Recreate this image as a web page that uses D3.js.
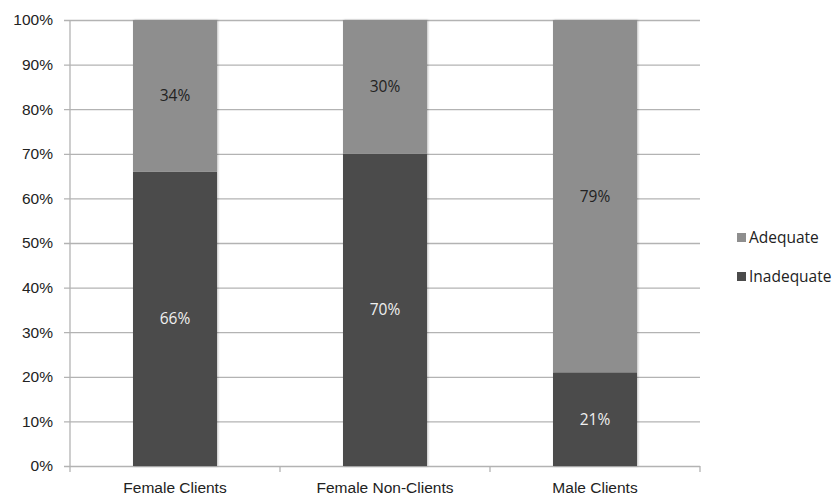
<!DOCTYPE html>
<html>
<head>
<meta charset="utf-8">
<script src="https://cdn.jsdelivr.net/npm/d3@7"></script>
<style>
  body { margin: 0; background: #fff; }
  svg { display: block; font-family: "Open Sans", Lato, sans-serif; }
</style>
</head>
<body>
<svg id="chart" width="839" height="501"></svg>
<script>
// Share of respondents by group (percent)
const categories = ["Female Clients", "Female Non-Clients", "Male Clients"];
const inadequate = [66, 70, 21];
const adequate = [34, 30, 79];
const seriesNames = ["Adequate", "Inadequate"];
const yTicks = [0, 10, 20, 30, 40, 50, 60, 70, 80, 90, 100];

const colors = { Inadequate: "#4b4b4b", Adequate: "#8e8e8e" };

const svg = d3.select("#chart");
const margin = { left: 70, right: 139, top: 20, bottom: 35 };
const width = 839, height = 501;
const fontSize = "15.5px";

const x = d3.scaleBand()
  .domain(categories)
  .range([margin.left, width - margin.right])
  .paddingInner(0.6)
  .paddingOuter(0.3);

const y = d3.scaleLinear()
  .domain([0, 100])
  .range([height - margin.bottom, margin.top]);

// Gridlines with left tick marks
const yAxis = d3.axisLeft(y)
  .tickValues(yTicks)
  .tickFormat(d => d + "%")
  .tickSize(-(width - margin.right - margin.left))
  .tickPadding(17);

const gy = svg.append("g")
  .attr("transform", `translate(${margin.left},0)`)
  .call(yAxis);
gy.select(".domain").remove();
gy.selectAll(".tick line")
  .attr("x1", -6)
  .attr("stroke", "#b3b3b3")
  .attr("stroke-width", 1.3);
gy.selectAll(".tick text")
  .attr("fill", "#222")
  .style("font-size", fontSize);

// Vertical axis line
svg.append("line")
  .attr("x1", margin.left).attr("x2", margin.left)
  .attr("y1", y(100)).attr("y2", y(0))
  .attr("stroke", "#b3b3b3").attr("stroke-width", 1.3);

// Category axis
const xAxis = d3.axisBottom(x).tickSize(0).tickPadding(16);
const gx = svg.append("g")
  .attr("transform", `translate(0,${y(0)})`)
  .call(xAxis);
gx.select(".domain").remove();
gx.selectAll(".tick text")
  .attr("fill", "#222")
  .style("font-size", fontSize);

// Boundary ticks between categories
const step = x.step();
const bounds = d3.range(categories.length + 1).map(i => margin.left + i * step);
svg.append("g").selectAll("line")
  .data(bounds)
  .join("line")
  .attr("x1", d => d).attr("x2", d => d)
  .attr("y1", y(0)).attr("y2", y(0) + 6)
  .attr("stroke", "#b3b3b3").attr("stroke-width", 1.3);

// Stacked bars
const rows = categories.map((c, i) => ({ cat: c, Inadequate: inadequate[i], Adequate: adequate[i] }));
const stack = d3.stack().keys(["Inadequate", "Adequate"]);
const layers = stack(rows);

const defs = svg.append("defs");
const f = defs.append("filter").attr("id", "shadow")
  .attr("x", "-10%").attr("y", "-10%").attr("width", "120%").attr("height", "120%");
f.append("feDropShadow").attr("dx", 1).attr("dy", 0).attr("stdDeviation", 1)
  .attr("flood-color", "#000").attr("flood-opacity", 0.25);

const g = svg.append("g").attr("filter", "url(#shadow)");
layers.forEach(layer => {
  g.append("g").selectAll("rect")
    .data(layer)
    .join("rect")
    .attr("x", d => x(d.data.cat))
    .attr("width", x.bandwidth())
    .attr("y", d => y(d[1]))
    .attr("height", d => y(d[0]) - y(d[1]))
    .attr("fill", colors[layer.key]);
});

// Value labels centred in each segment
layers.forEach(layer => {
  svg.append("g").selectAll("text")
    .data(layer)
    .join("text")
    .attr("x", d => x(d.data.cat) + x.bandwidth() / 2)
    .attr("y", d => y((d[0] + d[1]) / 2))
    .attr("dy", "0.35em")
    .attr("text-anchor", "middle")
    .attr("fill", layer.key === "Inadequate" ? "#f0f0f0" : "#222")
    .style("font-size", fontSize)
    .text(d => (d[1] - d[0]) + "%");
});

// Legend
const legend = svg.append("g").attr("transform", "translate(737,0)");
seriesNames.forEach((name, i) => {
  const ly = 238 + i * 39;
  legend.append("rect")
    .attr("x", 0).attr("y", ly - 5)
    .attr("width", 9).attr("height", 9)
    .attr("fill", colors[name]);
  legend.append("text")
    .attr("x", 12).attr("y", ly)
    .attr("dy", "0.35em")
    .attr("fill", "#222")
    .style("font-size", fontSize)
    .text(name);
});
</script>
</body>
</html>
